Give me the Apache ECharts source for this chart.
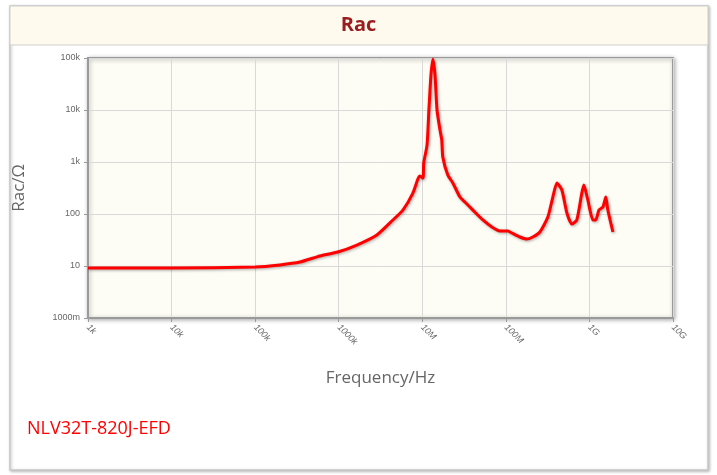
<!DOCTYPE html>
<html>
<head>
<meta charset="utf-8">
<script src="https://cdn.jsdelivr.net/npm/echarts@6/dist/echarts.min.js"></script>
<style>
html,body{margin:0;padding:0;background:#fff;}
#chart{width:717px;height:475px;}
</style>
</head>
<body>
<div id="chart"></div>
<script>
// Frequency (Hz)
var freqs = [1e3, 1e4, 1e5, 1.98e5, 3.44e5, 5.96e5, 9.77e5, 1.65e6, 2.86e6, 4.45e6, 5.86e6, 7.72e6, 8.86e6, 9.36e6, 1.02e7, 1.04e7, 1.14e7, 1.20e7, 1.27e7, 1.34e7, 1.42e7, 1.50e7, 1.63e7, 1.71e7, 1.76e7, 2.02e7, 2.32e7, 2.82e7, 3.23e7, 4.03e7, 5.31e7, 6.80e7, 8.48e7, 1.06e8, 1.18e8, 1.47e8, 1.78e8, 2.10e8, 2.55e8, 3.18e8, 3.65e8, 4.08e8, 4.68e8, 5.37e8, 6.15e8, 7.06e8, 8.11e8, 8.57e8, 9.57e8, 1.10e9, 1.19e9, 1.30e9, 1.45e9, 1.57e9, 1.66e9, 1.91e9];
// Rac (Ohm)
var racValues = [9.15, 9.15, 9.6, 10.5, 11.9, 15.6, 18.6, 25.3, 39.5, 76.7, 119, 253, 471, 538, 492, 957, 2120, 10000, 47000, 95000, 47000, 10000, 4100, 2650, 1250, 562, 395, 212, 170, 119, 76.7, 56.3, 47.1, 47.1, 43.1, 36.1, 33.0, 36.1, 45.1, 87.5, 212, 395, 290, 105, 64.2, 76.7, 253, 361, 186, 76.7, 76.7, 119, 136, 212, 119, 45.1];
var xTickLabels = {"1000": "1k", "10000": "10k", "100000": "100k", "1000000": "1000k", "10000000": "10M", "100000000": "100M", "1000000000": "1G", "10000000000": "10G"};
var yTickLabels = {"1": "1000m", "10": "10", "100": "100", "1000": "1k", "10000": "10k", "100000": "100k"};
var seriesName = "NLV32T-820J-EFD";
var chartTitle = "Rac";

var data = freqs.map(function (f, i) { return [f, racValues[i]]; });
function lab(map, v) {
  var k = String(Math.round(v));
  return map[k] !== undefined ? map[k] : '';
}

var chart = echarts.init(document.getElementById('chart'), null, {renderer: 'canvas'});
chart.setOption({
  animation: false,
  backgroundColor: '#ffffff',
  graphic: [
    {type: 'rect', z: -10, shape: {x: 10, y: 6, width: 698, height: 464}, style: {fill: '#ffffff', stroke: '#c8c8c8', lineWidth: 1.5, shadowBlur: 3, shadowColor: 'rgba(0,0,0,0.25)', shadowOffsetX: 1, shadowOffsetY: 1}},
    {type: 'rect', z: -9, shape: {x: 10, y: 6, width: 698, height: 39}, style: {fill: '#fefaee', stroke: '#cfcfcf', lineWidth: 1}}
  ],
  title: {
    text: chartTitle,
    left: 'center',
    top: 10,
    textStyle: {color: '#9a1c1f', fontSize: 20, fontWeight: 'bold', fontFamily: 'Open Sans'}
  },
  legend: {
    data: [seriesName],
    left: 17,
    top: 415,
    icon: 'none',
    itemWidth: 0,
    itemHeight: 0,
    itemGap: 0,
    textStyle: {color: '#ff0000', fontSize: 18, fontFamily: 'Open Sans', padding: [0,0,0,0]},
    selectedMode: false
  },
  grid: {
    left: 88, right: 44, top: 58, bottom: 157,
    show: true,
    backgroundColor: '#fdfcf5',
    borderColor: '#9a9a9a',
    borderWidth: 2,
    shadowBlur: 4,
    shadowColor: 'rgba(0,0,0,0.3)',
    shadowOffsetX: 1,
    shadowOffsetY: 1
  },
  xAxis: {
    type: 'log',
    logBase: 10,
    min: 1e3,
    max: 1e10,
    name: 'Frequency/Hz',
    nameLocation: 'middle',
    nameGap: 52,
    nameTextStyle: {color: '#666', fontSize: 17, fontFamily: 'Open Sans'},
    axisLine: {show: true, lineStyle: {color: '#9a9a9a', width: 2}},
    axisTick: {show: true, length: 4, lineStyle: {color: '#9a9a9a'}},
    axisLabel: {
      rotate: -45,
      color: '#666',
      fontSize: 9,
      fontStyle: 'italic',
      margin: 8,
      formatter: function (v) { return lab(xTickLabels, v); }
    },
    splitLine: {show: true, lineStyle: {color: '#d9d9d9', width: 1}},
    minorTick: {show: false}
  },
  yAxis: {
    type: 'log',
    logBase: 10,
    min: 1,
    max: 1e5,
    name: 'Rac/Ω',
    nameLocation: 'middle',
    nameGap: 60,
    nameTextStyle: {color: '#666', fontSize: 17, fontFamily: 'Open Sans'},
    axisLine: {show: true, lineStyle: {color: '#9a9a9a', width: 2}},
    axisTick: {show: true, length: 4, lineStyle: {color: '#9a9a9a'}},
    axisLabel: {
      color: '#666',
      fontSize: 9,
      margin: 8,
      formatter: function (v) { return lab(yTickLabels, v); }
    },
    splitLine: {show: true, lineStyle: {color: '#d9d9d9', width: 1}}
  },
  series: [{
    name: seriesName,
    type: 'line',
    data: data,
    showSymbol: false,
    smooth: 0.2,
    clip: true,
    lineStyle: {color: '#ff0000', width: 3, shadowBlur: 3, shadowColor: 'rgba(0,0,0,0.35)', shadowOffsetX: 1, shadowOffsetY: 1},
    itemStyle: {color: '#ff0000'}
  }]
});
</script>
</body>
</html>
